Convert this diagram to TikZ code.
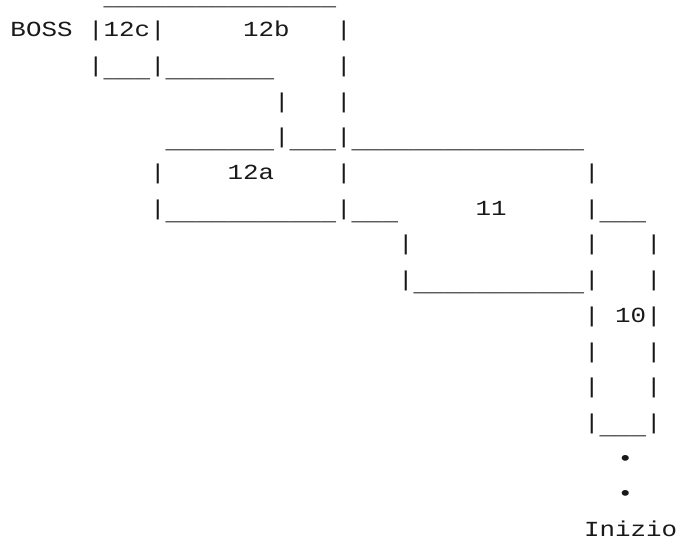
\documentclass[tikz,border=0pt]{standalone}
\usepackage{fontspec}
\setmonofont{Liberation Mono}
\usepackage{graphicx}
\newcommand{\sx}[1]{\scalebox{1.2016}[1]{#1}}
\newcommand{\us}{\raisebox{-5bp}[0pt][0pt]{\_}}
\tikzset{
  txt/.style={font=\fontsize{21.5bp}{26bp}\selectfont\ttfamily, inner sep=0pt, outer sep=0pt, anchor=base west, text=black!90},
}
\begin{document}
\begin{tikzpicture}[x=1bp,y=-1bp]
\useasboundingbox (0,0) rectangle (682,542);
% column c at x = 10.5 + 15.5 c ; row r baseline at y = 1 + 35.7 r
% row 0
\node[txt] (r0a) at ({10.5+15.5*6},{1+35.7*0}) {\sx{\us\us\us\us\us\us\us\us\us\us\us\us\us\us\us}};
% row 1
\node[txt] (r1a) at ({10.5+15.5*0},{1+35.7*1}) {\sx{BOSS}};
\node[txt] (r1b) at ({10.5+15.5*5},{1+35.7*1}) {\sx{|12c|}};
\node[txt] (r1c) at ({10.5+15.5*15},{1+35.7*1}) {\sx{12b}};
\node[txt] (r1d) at ({10.5+15.5*21},{1+35.7*1}) {\sx{|}};
% row 2
\node[txt] (r2a) at ({10.5+15.5*5},{1+35.7*2}) {\sx{|\us\us\us|\us\us\us\us\us\us\us}};
\node[txt] (r2b) at ({10.5+15.5*21},{1+35.7*2}) {\sx{|}};
% row 3
\node[txt] (r3a) at ({10.5+15.5*17},{1+35.7*3}) {\sx{|}};
\node[txt] (r3b) at ({10.5+15.5*21},{1+35.7*3}) {\sx{|}};
% row 4
\node[txt] (r4a) at ({10.5+15.5*10},{1+35.7*4}) {\sx{\us\us\us\us\us\us\us|\us\us\us|\us\us\us\us\us\us\us\us\us\us\us\us\us\us\us}};
% row 5
\node[txt] (r5a) at ({10.5+15.5*9},{1+35.7*5}) {\sx{|}};
\node[txt] (r5b) at ({10.5+15.5*14},{1+35.7*5}) {\sx{12a}};
\node[txt] (r5c) at ({10.5+15.5*21},{1+35.7*5}) {\sx{|}};
\node[txt] (r5d) at ({10.5+15.5*37},{1+35.7*5}) {\sx{|}};
% row 6
\node[txt] (r6a) at ({10.5+15.5*9},{1+35.7*6}) {\sx{|\us\us\us\us\us\us\us\us\us\us\us|\us\us\us}};
\node[txt] (r6b) at ({10.5+15.5*30},{1+35.7*6}) {\sx{11}};
\node[txt] (r6c) at ({10.5+15.5*37},{1+35.7*6}) {\sx{|\us\us\us}};
% row 7
\node[txt] (r7a) at ({10.5+15.5*25},{1+35.7*7}) {\sx{|}};
\node[txt] (r7b) at ({10.5+15.5*37},{1+35.7*7}) {\sx{|}};
\node[txt] (r7c) at ({10.5+15.5*41},{1+35.7*7}) {\sx{|}};
% row 8
\node[txt] (r8a) at ({10.5+15.5*25},{1+35.7*8}) {\sx{|\us\us\us\us\us\us\us\us\us\us\us|}};
\node[txt] (r8b) at ({10.5+15.5*41},{1+35.7*8}) {\sx{|}};
% row 9
\node[txt] (r9a) at ({10.5+15.5*37},{1+35.7*9}) {\sx{|}};
\node[txt] (r9b) at ({10.5+15.5*39},{1+35.7*9}) {\sx{10|}};
% row 10
\node[txt] (r10a) at ({10.5+15.5*37},{1+35.7*10}) {\sx{|}};
\node[txt] (r10b) at ({10.5+15.5*41},{1+35.7*10}) {\sx{|}};
% row 11
\node[txt] (r11a) at ({10.5+15.5*37},{1+35.7*11}) {\sx{|}};
\node[txt] (r11b) at ({10.5+15.5*41},{1+35.7*11}) {\sx{|}};
% row 12
\node[txt] (r12a) at ({10.5+15.5*37},{1+35.7*12}) {\sx{|\us\us\us|}};
% rows 13-14
\node[txt] (r13a) at ({13+15.5*39},{1+35.7*13}) {\sx{\textbullet}};
\node[txt] (r14a) at ({13+15.5*39},{1+35.7*14}) {\sx{\textbullet}};
% row 15
\node[txt] (r15a) at ({10.5+15.5*37},{1+35.7*15}) {\sx{Inizio}};
\end{tikzpicture}
\end{document}
